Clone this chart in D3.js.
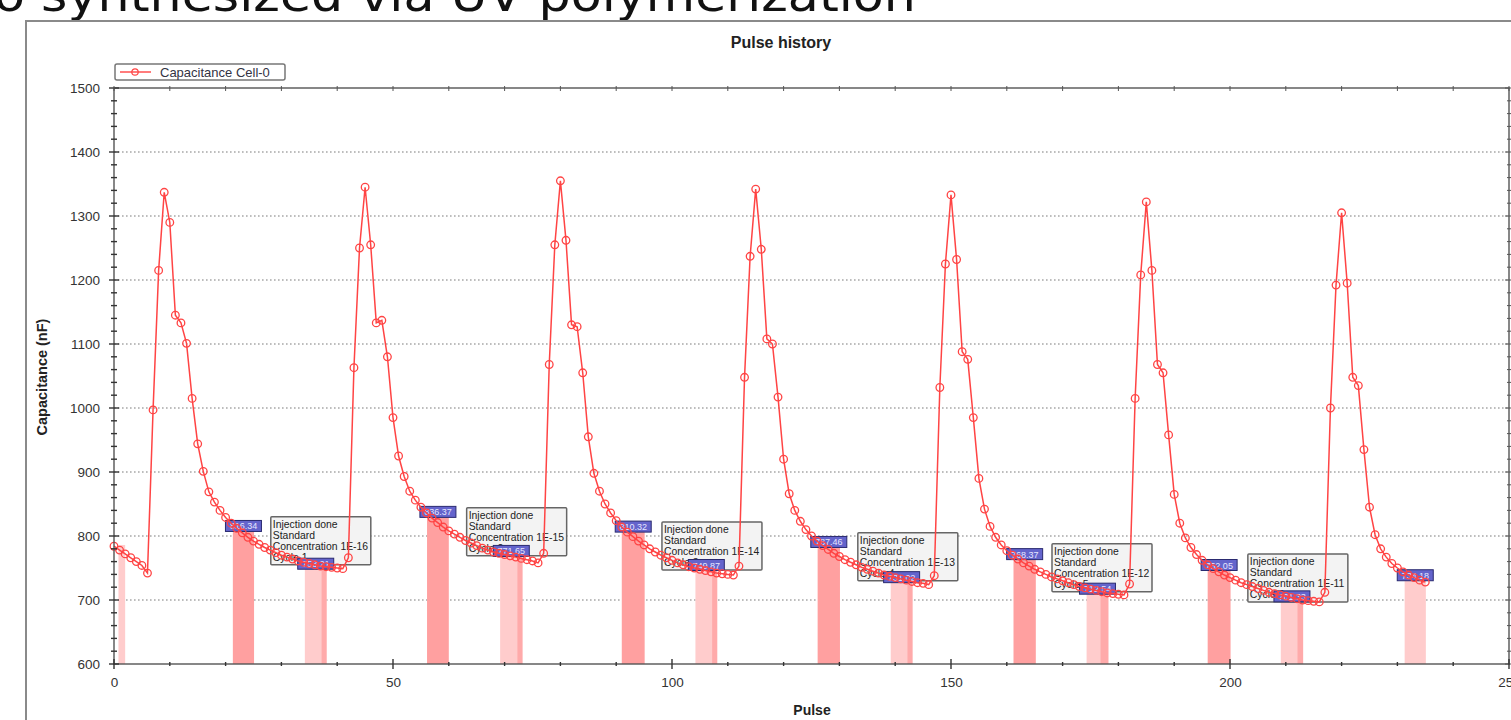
<!DOCTYPE html>
<html><head><meta charset="utf-8">
<script src="https://cdn.jsdelivr.net/npm/d3@7"></script>
<style>body{margin:0;background:#fff;overflow:hidden}svg{display:block}</style>
</head><body>
<svg id="c" width="1511" height="720"></svg>
<script>
// ---- data ----
const capacitance = [
784,778,772,766,760,754,742,
997,1215,1337,1290,1145,1133,1101,1015,944,901,869,
853,840,829,820,812,805,798,792,787,782,778,774,770,767,764,761,759,757,755,753,752,751,750,749,
766,1063,1250,1345,1255,1133,1137,1080,985,925,893,
870,856,845,836,828,821,814,808,803,798,793,789,785,781,778,775,773,771,769,767,765,763,761,758,
773,1068,1255,1355,1262,1130,1127,1055,955,898,
870,850,836,824,814,806,799,792,786,780,775,770,766,762,758,755,752,750,748,746,744,742,741,740,739,
753,1048,1237,1342,1248,1108,1100,1017,920,866,
840,823,810,800,792,785,779,773,768,763,759,755,751,748,745,742,739,737,735,733,731,729,727,726,724,
738,1032,1225,1333,1232,1088,1076,985,890,
842,815,798,786,777,770,764,758,753,748,744,740,736,733,730,727,724,721,719,717,715,713,711,710,709,708,
725,1015,1208,1322,1215,1068,1055,958,865,
820,797,782,771,762,755,749,744,739,735,731,727,724,721,718,715,712,710,708,706,704,702,700,699,698,697,
712,1000,1192,1305,1195,1048,1035,935,845,
802,780,767,757,750,744,739,735,731,728
];
const bandStart = [0.8, 21.3, 34.2, 56.1, 69.2, 91.0, 104.2, 126.1, 139.2, 161.2, 174.3, 196.0, 209.1, 231.3];
const bandEnd   = [2.0, 25.1, 38.1, 60.0, 73.2, 95.1, 108.1, 130.1, 143.1, 165.2, 178.2, 200.1, 213.1, 235.1];
const bandTop   = [786, 811, 752, 833, 772, 810, 750, 786, 731, 767, 713, 750, 701, 734];
const bandKind  = ["light","dark","light","dark","light","dark","light","dark","light","dark","light","dark","light","light"];
const stripStart = [37.2, 72.3, 107.2, 142.2, 176.8, 212.1];
const stripEnd   = [38.1, 73.2, 108.1, 143.1, 178.2, 213.1];
const bandLabel = ["", "816.34","753.21","836.37","771.65","810.32","749.87","787.46","731.02","768.37","712.54","752.05","701.33","734.18"];
const annotX   = [28.1, 63.2, 98.2, 133.3, 168.1, 203.2];
const annotTop = [830, 844, 822, 805, 788, 772];
const annotConc = ["1E-16","1E-15","1E-14","1E-13","1E-12","1E-11"];
const yTicks = [600,700,800,900,1000,1100,1200,1300,1400,1500];
const xTicks = [0,50,100,150,200,250];

// ---- chart ----
const svg = d3.select("#c");
const x = d3.scaleLinear().domain([0,250]).range([114,1509]);
const y = d3.scaleLinear().domain([600,1500]).range([664,88]);
const red = "#ff4444";
const font = "'Liberation Sans',Arial,sans-serif";

// slide title fragment
svg.append("text").attr("x",-6).attr("y",11).attr("font-family","'DejaVu Sans',sans-serif")
  .attr("font-size",46).attr("fill","#111").attr("textLength",922).attr("lengthAdjust","spacingAndGlyphs")
  .text("o synthesized via UV polymerization");

// outer frame
svg.append("path").attr("d","M26,722 L26,21 L1515,21").attr("fill","none").attr("stroke","#8a8a8a").attr("stroke-width",2);

svg.append("text").attr("x",781).attr("y",48).attr("text-anchor","middle")
  .attr("font-family",font).attr("font-weight","bold").attr("font-size",16).attr("fill","#222")
  .text("Pulse history");

// grid
svg.append("g").selectAll("line").data(yTicks.filter(v=>v>600&&v<1500)).join("line")
  .attr("x1",x(0)).attr("x2",x(250)).attr("y1",d=>y(d)).attr("y2",d=>y(d))
  .attr("stroke","#a8a8a8").attr("stroke-width",1.3).attr("stroke-dasharray","1.6,2.4");

// bands
const bandColor = {dark:"#ffa0a0", light:"#ffcccc"};
svg.append("g").selectAll("rect").data(bandStart).join("rect")
  .attr("x",(d,i)=>x(d)).attr("width",(d,i)=>x(bandEnd[i])-x(d))
  .attr("y",(d,i)=>y(bandTop[i])).attr("height",(d,i)=>y(600)-y(bandTop[i]))
  .attr("fill",(d,i)=>bandColor[bandKind[i]]);
svg.append("g").selectAll("rect").data(stripStart).join("rect")
  .attr("x",d=>x(d)).attr("width",(d,i)=>x(stripEnd[i])-x(d))
  .attr("y",(d,i)=>y(bandTop[2+2*i])).attr("height",(d,i)=>y(600)-y(bandTop[2+2*i]))
  .attr("fill","#ffaaaa");

// annotation boxes
const ann = svg.append("g").selectAll("g").data(annotX).join("g")
  .attr("transform",(d,i)=>`translate(${x(d)},${y(annotTop[i])})`);
ann.append("rect").attr("width",100).attr("height",48).attr("fill","#f3f3f3")
  .attr("stroke","#666").attr("stroke-width",1.5).attr("rx",1);
const lines = (c,i)=>["Injection done","Standard","Concentration "+c,"Cycle "+(i+1)];
ann.each(function(d,i){
  const g = d3.select(this);
  lines(annotConc[i],i).forEach((t,k)=>{
    g.append("text").attr("x",2).attr("y",11+k*11).attr("font-family",font)
     .attr("font-size",10.4).attr("fill","#222").text(t);
  });
});

// value labels
const lab = svg.append("g").selectAll("g").data(bandStart.map((d,i)=>i).filter(i=>bandLabel[i])).join("g")
  .attr("transform",i=>`translate(${x((bandStart[i]+bandEnd[i])/2)},${y(bandTop[i])-3})`);
lab.append("rect").attr("x",-18).attr("y",-5.5).attr("width",36).attr("height",11)
  .attr("fill","#6464cc").attr("stroke","#2a2a70").attr("stroke-width",1);
lab.append("text").attr("text-anchor","middle").attr("y",3.5).attr("font-family",font)
  .attr("font-size",9).attr("fill","#e6e6ff").text(i=>bandLabel[i]);

// series
const line = d3.line().x((d,i)=>x(i)).y(d=>y(d));
svg.append("path").datum(capacitance).attr("d",line).attr("fill","none").attr("stroke",red).attr("stroke-width",1.5);
svg.append("g").selectAll("circle").data(capacitance).join("circle")
  .attr("cx",(d,i)=>x(i)).attr("cy",d=>y(d)).attr("r",3.8)
  .attr("fill","none").attr("stroke",red).attr("stroke-width",1.3);

// axes frame
svg.append("rect").attr("x",x(0)).attr("y",y(1500)).attr("width",x(250)-x(0)).attr("height",y(600)-y(1500))
  .attr("fill","none").attr("stroke","#555").attr("stroke-width",1.4);

const minorY = d3.range(600,1501,20).filter(v=>v%100!==0);
const minorX = d3.range(0,251,10).filter(v=>v%50!==0);

// left axis
const yAxis = svg.append("g").attr("transform",`translate(${x(0)},0)`)
  .call(d3.axisLeft(y).tickValues(yTicks).tickFormat(d3.format("d")).tickSize(0).tickPadding(14));
yAxis.select(".domain").remove();
yAxis.selectAll("text").attr("font-family",font).attr("font-size",13.5).attr("fill","#333");
yAxis.append("g").selectAll("line").data(yTicks).join("line").attr("x1",-5).attr("x2",5).attr("y1",d=>y(d)).attr("y2",d=>y(d)).attr("stroke","#333").attr("stroke-width",1.4);
yAxis.append("g").selectAll("line").data(minorY).join("line").attr("x1",-3).attr("x2",3).attr("y1",d=>y(d)).attr("y2",d=>y(d)).attr("stroke","#333").attr("stroke-width",1.4);
// right axis ticks
const yR = svg.append("g").attr("transform",`translate(${x(250)},0)`);
yR.append("g").selectAll("line").data(yTicks).join("line").attr("x1",-4).attr("x2",2).attr("y1",d=>y(d)).attr("y2",d=>y(d)).attr("stroke","#555");
yR.append("g").selectAll("line").data(minorY).join("line").attr("x1",-2).attr("x2",2).attr("y1",d=>y(d)).attr("y2",d=>y(d)).attr("stroke","#555");

// bottom axis
const xAxis = svg.append("g").attr("transform",`translate(0,${y(600)})`)
  .call(d3.axisBottom(x).tickValues(xTicks).tickFormat(d3.format("d")).tickSize(0).tickPadding(13));
xAxis.select(".domain").remove();
xAxis.selectAll("text").attr("font-family",font).attr("font-size",13.5).attr("fill","#333");
xAxis.append("g").selectAll("line").data(xTicks).join("line").attr("y1",-5).attr("y2",5).attr("x1",d=>x(d)).attr("x2",d=>x(d)).attr("stroke","#333").attr("stroke-width",1.4);
xAxis.append("g").selectAll("line").data(minorX).join("line").attr("y1",-2).attr("y2",2).attr("x1",d=>x(d)).attr("x2",d=>x(d)).attr("stroke","#333").attr("stroke-width",1.4);
// top axis ticks
const xT = svg.append("g").attr("transform",`translate(0,${y(1500)})`);
xT.append("g").selectAll("line").data(minorX.concat(xTicks)).join("line").attr("y1",-2).attr("y2",3).attr("x1",d=>x(d)).attr("x2",d=>x(d)).attr("stroke","#555");

// axis titles
svg.append("text").attr("transform","translate(47,377) rotate(-90)").attr("text-anchor","middle")
  .attr("font-family",font).attr("font-weight","bold").attr("font-size",14.5).attr("fill","#222").text("Capacitance (nF)");
svg.append("text").attr("x",812).attr("y",715).attr("text-anchor","middle")
  .attr("font-family",font).attr("font-weight","bold").attr("font-size",14).attr("fill","#222").text("Pulse");

// legend
const lg = svg.append("g").attr("transform","translate(115,64)");
lg.append("rect").attr("width",170).attr("height",16).attr("rx",2).attr("fill","#fff").attr("stroke","#777").attr("stroke-width",1.5);
lg.append("line").attr("x1",5).attr("x2",36).attr("y1",8).attr("y2",8).attr("stroke",red).attr("stroke-width",1.4);
lg.append("circle").attr("cx",20).attr("cy",8).attr("r",3.2).attr("fill","none").attr("stroke",red).attr("stroke-width",1.2);
lg.append("text").attr("x",45).attr("y",12.5).attr("font-family",font).attr("font-size",13).attr("fill","#334").text("Capacitance Cell-0");
</script>
</body></html>
